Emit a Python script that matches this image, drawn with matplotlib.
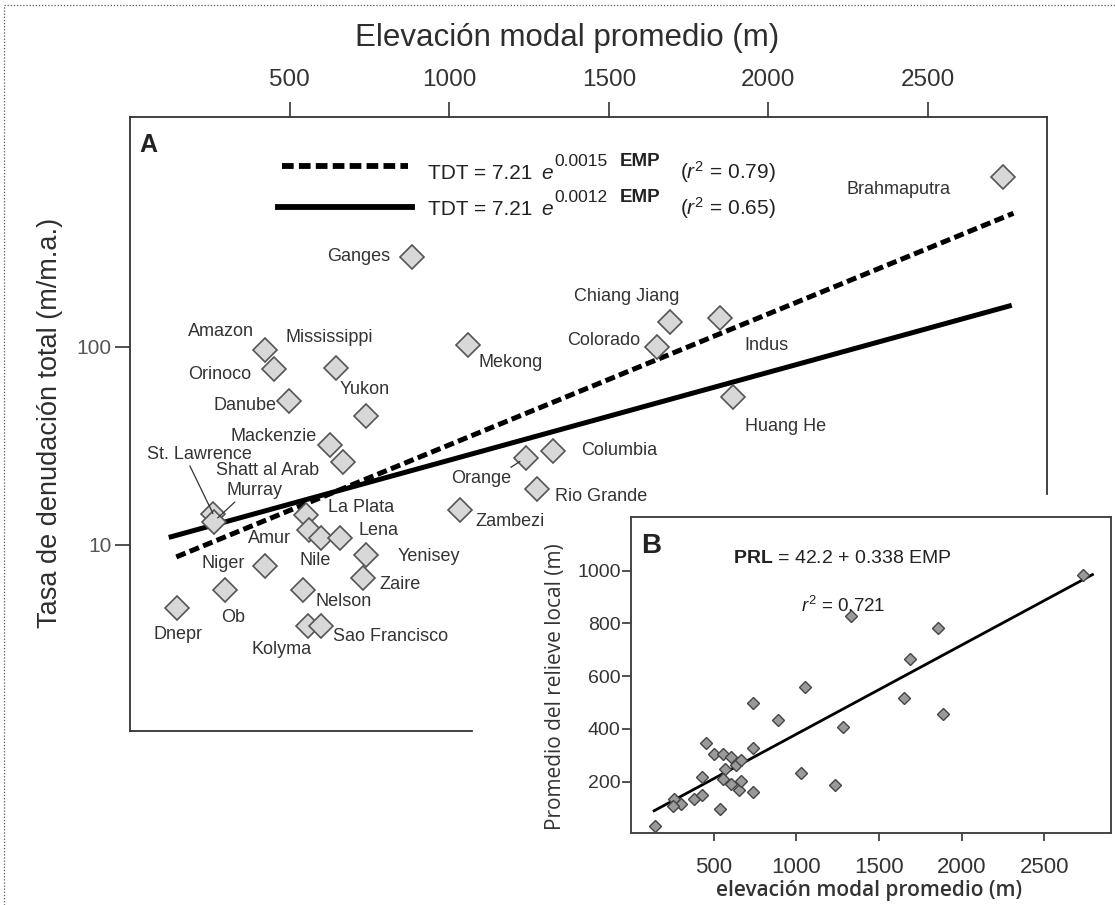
"""
Denudation rate vs. modal elevation of large river basins.
Main panel (A) on log scale with two exponential fits, inset (B) with local relief.
"""

import matplotlib
matplotlib.use("Agg")
import matplotlib.pyplot as plt
from matplotlib.lines import Line2D

plt.rcParams['font.family'] = ['Liberation Sans', 'DejaVu Sans']
plt.rcParams['mathtext.fontset'] = 'custom'
plt.rcParams['mathtext.rm'] = 'Liberation Sans'
plt.rcParams['mathtext.it'] = 'Liberation Sans:italic'
plt.rcParams['mathtext.bf'] = 'Liberation Sans:bold'

NARROW = ['Liberation Sans Narrow', 'Liberation Sans', 'DejaVu Sans']
HUMANIST = ['Open Sans', 'DejaVu Sans']

# --- panel A data: modal elevation (m) and total denudation rate (m/m.a.)
rivers = ["Brahmaputra", "Ganges", "Amazon", "Orinoco", "Mississippi", "Danube",
          "Yukon", "Mackenzie", "Shatt al Arab", "St. Lawrence", "Murray", "Mekong",
          "La Plata", "Amur", "Nile", "Lena", "Yenisey", "Zaire", "Niger", "Orange",
          "Columbia", "Rio Grande", "Zambezi", "Dnepr", "Ob", "Nelson", "Kolyma",
          "Sao Francisco", "Chiang Jiang", "Colorado", "Indus", "Huang He"]
emp = [2736, 885, 422, 451, 646, 497,
       740, 628, 667, 260, 262, 1059,
       552, 560, 599, 657, 740, 730, 422, 1240,
       1325, 1276, 1033, 148, 299, 542, 557,
       599, 1691, 1651, 1850, 1888]
tdt = [725, 286, 96.6, 77.4, 78, 53.4,
       45, 32, 26.1, 14.4, 13.1, 102,
       14.2, 11.9, 10.9, 10.9, 8.9, 6.8, 7.8, 27.6,
       29.8, 19.1, 15.1, 4.8, 5.9, 5.9, 3.9,
       3.9, 134, 100, 140, 56]

# fitted lines, end points
fit_dashed_emp = [145, 2768]
fit_dashed_tdt = [8.7, 473]
fit_solid_emp = [129, 2755]
fit_solid_tdt = [11.0, 161]

# legend entries: (exponent coefficient, r squared)
fit_labels = [("0.0015", "0.79"), ("0.0012", "0.65")]

# --- panel B data: modal elevation (m) and mean local relief (m)
b_emp = [148, 262, 303, 256, 383, 427, 427, 454, 500, 539,
         559, 605, 569, 554, 605, 651, 666, 635, 666, 740,
         736, 736, 887, 1028, 1054, 1236, 1284, 1331, 1649, 1689,
         1858, 1885, 2731]
b_prl = [33, 134, 115, 109, 133, 148, 219, 346, 305, 97,
         305, 293, 247, 209, 191, 169, 204, 263, 282, 327,
         162, 500, 434, 232, 558, 188, 409, 829, 516, 665,
         784, 457, 985]
b_intercept = 42.2
b_slope = 0.338
b_fit_range = [140, 2790]

x_ticks = [500, 1000, 1500, 2000, 2500]
a_yticks = [10, 100]
b_yticks = [200, 400, 600, 800, 1000]

# label placement: offset in pixels from the marker, horizontal alignment
label_layout = {
    "Brahmaputra": (-53, -13, 'right'), "Ganges": (-22, 0, 'right'),
    "Amazon": (-11, 18, 'right'), "Orinoco": (-23, -6, 'right'),
    "Mississippi": (-7, 31, 'center'), "Danube": (-12, -5, 'right'),
    "Yukon": (-1, 26, 'center'), "Mackenzie": (-14, 8, 'right'),
    "Shatt al Arab": (-24, -8, 'right'), "St. Lawrence": (-14, 59, 'center'),
    "Murray": (41, 31, 'center'), "Mekong": (10, -17, 'left'),
    "La Plata": (22, 7, 'left'), "Amur": (-18, -9, 'right'),
    "Nile": (-6, -23, 'center'), "Lena": (19, 7, 'left'),
    "Yenisey": (31, -2, 'left'), "Zaire": (16, -6, 'left'),
    "Niger": (-20, 3, 'right'), "Orange": (-15, -21, 'right'),
    "Columbia": (28, 1, 'left'), "Rio Grande": (18, -7, 'left'),
    "Zambezi": (16, -12, 'left'), "Dnepr": (1, -26, 'center'),
    "Ob": (8, -27, 'center'), "Nelson": (13, -11, 'left'),
    "Kolyma": (-26, -24, 'center'), "Sao Francisco": (12, -11, 'left'),
    "Chiang Jiang": (-43, 25, 'center'), "Colorado": (-17, 6, 'right'),
    "Indus": (24, -28, 'left'), "Huang He": (12, -30, 'left'),
}
# leader lines: (relpos on label box, shrink at marker end)
leaders = {"St. Lawrence": ((0.4, 0.0), 0),
           "Murray": ((0.2, 0.0), 4),
           "Orange": ((0.93, 1.0), 5)}

fig = plt.figure(figsize=(11.15, 9.05), dpi=100)

# --- panel A
ax = fig.add_axes([0.1166, 0.1923, 0.8224, 0.6785])
ax.set_yscale('log')
ax.set_xlim(0, 2873)
ax.set_ylim(1.15, 1450)

ax.plot(fit_dashed_emp, fit_dashed_tdt, color='black', lw=3.6,
        linestyle=(0, (2.0, 0.9)), zorder=2)
ax.plot(fit_solid_emp, fit_solid_tdt, color='black', lw=3.6, zorder=2)
ax.plot(emp, tdt, linestyle='none', marker='D', ms=12.5,
        markerfacecolor='#d8d8d8', markeredgecolor='#555555', markeredgewidth=1.2, zorder=3)

for name, x, y in zip(rivers, emp, tdt):
    dx, dy, ha = label_layout[name]
    kw = {}
    if name in leaders:
        relpos, shrink = leaders[name]
        kw['arrowprops'] = dict(arrowstyle='-', color='#333333', lw=0.9,
                                relpos=relpos, shrinkA=0, shrinkB=shrink)
    ax.annotate(name, (x, y), xytext=(dx, dy), textcoords='offset pixels',
                ha=ha, va='center', fontsize=13, color='#333333', zorder=4, **kw)

# axes styling: top ticks only, left log ticks at 10 and 100
ax.xaxis.tick_top()
ax.set_xticks(x_ticks)
ax.set_xticklabels([str(t) for t in x_ticks], family=NARROW, fontsize=17.5, color='#333333')
ax.set_yticks(a_yticks)
ax.set_yticklabels([str(t) for t in a_yticks], fontsize=15, color='#555555')
ax.yaxis.set_minor_locator(matplotlib.ticker.NullLocator())
ax.tick_params(axis='x', which='major', length=11, width=1.2, pad=8, color='#333333')
ax.tick_params(axis='y', which='major', length=11, width=1.2, pad=2, color='#333333')
for side in ['top', 'left', 'right', 'bottom']:
    ax.spines[side].set_linewidth(1.3)
    ax.spines[side].set_color('#333333')
# panel B sits over the lower right corner of A
ax.spines['bottom'].set_bounds(0, 1070)
ax.spines['right'].set_bounds(18.1, 1450)

ax.text(0.010, 0.9435, 'A', transform=ax.transAxes, fontsize=18, fontweight='bold',
        ha='left', va='baseline', color='#222222')

# legend drawn by hand, built from pieces so the exponent can be large
ax.plot([0.1658, 0.3032], [0.9202, 0.9202], transform=ax.transAxes, color='black',
        lw=4.2, linestyle=(0, (2.0, 0.9)))
ax.plot([0.1614, 0.3075], [0.8539, 0.8539], transform=ax.transAxes, color='black', lw=4.2)
for (coef, r2), base in zip(fit_labels, [0.8985, 0.8404]):
    txt = dict(transform=ax.transAxes, ha='left', va='baseline', color='#222222')
    ax.text(0.325, base, 'TDT = 7.21', fontsize=15, **txt)
    ax.text(0.4485, base, 'e', fontsize=15, style='italic', **txt)
    ax.text(0.4625, base + 0.021, coef, fontsize=12.5, **txt)
    ax.text(0.5336, base + 0.021, 'EMP', fontsize=13.5, fontweight='bold', **txt)
    ax.text(0.5998, base, r'$(r^2$ = ' + r2 + ')', fontsize=15, **txt)

fig.text(0.509, 1 - 38 / 905, 'Elevación modal promedio (m)', ha='center', va='center',
         fontsize=22.5, family=NARROW, color='#2e2e2e')
fig.text(50 / 1115, 1 - 423 / 905, 'Tasa de denudación total (m/m.a.)', rotation=90,
         ha='center', va='center', fontsize=19.5, family=NARROW, color='#2e2e2e')

# --- panel B (inset)
ax_b = fig.add_axes([0.5659, 0.0792, 0.4302, 0.3499], zorder=3)
ax_b.set_facecolor('white')
ax_b.set_xlim(0, 2900)
ax_b.set_ylim(4, 1205)
ax_b.plot(b_fit_range, [b_intercept + b_slope * x for x in b_fit_range],
          color='black', lw=2.0, zorder=2)
ax_b.plot(b_emp, b_prl, linestyle='none', marker='D', ms=6.2,
          markerfacecolor='#9a9a9a', markeredgecolor='#444444', markeredgewidth=1.0, zorder=3)

ax_b.set_xticks(x_ticks)
ax_b.set_xticklabels([str(t) for t in x_ticks], family=NARROW, fontsize=16, color='#333333')
ax_b.set_yticks(b_yticks)
ax_b.set_yticklabels([str(t) for t in b_yticks], fontsize=14, color='#333333')
ax_b.tick_params(axis='x', length=6, width=1.2, pad=11, color='#333333')
ax_b.tick_params(axis='y', length=6.5, width=1.2, pad=1, color='#333333')
for side in ['top', 'left', 'right', 'bottom']:
    ax_b.spines[side].set_linewidth(1.4)
    ax_b.spines[side].set_color('#444444')

ax_b.text(0.022, 0.8844, 'B', transform=ax_b.transAxes, fontsize=20, fontweight='bold',
          ha='left', va='baseline', color='#222222')
ax_b.text(0.2133, 0.8528, r'$\mathbf{PRL}$ = 42.2 + 0.338 EMP', transform=ax_b.transAxes,
          fontsize=14, ha='left', va='baseline', color='#222222')
ax_b.text(0.3538, 0.70, r'$r^2$ = 0.721', transform=ax_b.transAxes,
          fontsize=13.5, ha='left', va='baseline', color='#222222')
ax_b.text(-0.158, 0.463, 'Promedio del relieve local (m)', transform=ax_b.transAxes,
          rotation=90, ha='center', va='center', fontsize=15, family=HUMANIST,
          color='#333333')
ax_b.text(0.4966, -0.182, 'elevación modal promedio (m)', transform=ax_b.transAxes,
          ha='center', va='center', fontsize=15, fontweight='semibold',
          family=HUMANIST, color='#333333')

# dotted frame of the original scan (top and left edges)
fig.add_artist(Line2D([4 / 1115, 4 / 1115, 1.0], [0.0, 1 - 5 / 905, 1 - 5 / 905],
                      transform=fig.transFigure, color='#555555', lw=0.9,
                      linestyle=(0, (1, 1.5))))

fig.savefig('out.png', dpi=100)
